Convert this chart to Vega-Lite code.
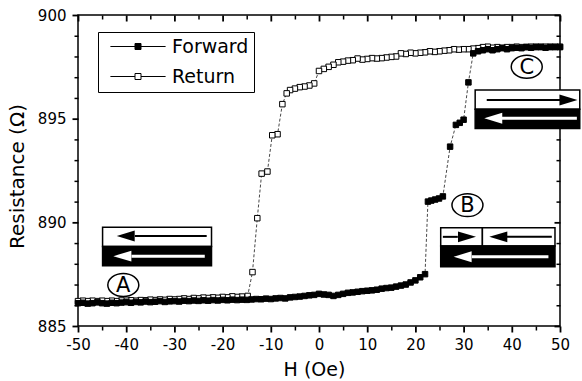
{
  "$schema": "https://vega.github.io/schema/vega-lite/v6.json",
  "width": 482,
  "height": 311,
  "autosize": {"type": "none"},
  "padding": {"left": 78, "top": 15, "right": 22, "bottom": 55},
  "background": "white",
  "config": {
    "view": {"stroke": "black", "strokeWidth": 1.5},
    "font": "DejaVu Sans",
    "axis": {"grid": false, "domain": false, "labelColor": "black", "titleColor": "black", "labelFont": "DejaVu Sans", "titleFont": "DejaVu Sans", "labelFontSize": 15, "titleFontSize": 19, "titleFontWeight": "normal", "labelFlush": false, "labelOverlap": false, "tickRound": false}
  },
  "datasets": {
    "curves": [
      {"H": 50, "R": 898.47, "series": "Return"}, {"H": 49, "R": 898.47, "series": "Return"}, {"H": 48, "R": 898.47, "series": "Return"}, {"H": 47, "R": 898.47, "series": "Return"}, {"H": 46, "R": 898.47, "series": "Return"}, {"H": 45, "R": 898.47, "series": "Return"}, {"H": 44, "R": 898.47, "series": "Return"}, {"H": 43, "R": 898.46, "series": "Return"}, {"H": 42, "R": 898.45, "series": "Return"}, {"H": 41, "R": 898.47, "series": "Return"}, {"H": 40, "R": 898.45, "series": "Return"}, {"H": 39, "R": 898.45, "series": "Return"}, {"H": 38, "R": 898.42, "series": "Return"}, {"H": 37, "R": 898.45, "series": "Return"}, {"H": 36, "R": 898.42, "series": "Return"}, {"H": 35, "R": 898.47, "series": "Return"}, {"H": 34, "R": 898.45, "series": "Return"}, {"H": 33, "R": 898.4, "series": "Return"}, {"H": 32, "R": 898.38, "series": "Return"}, {"H": 31, "R": 898.35, "series": "Return"}, {"H": 30, "R": 898.35, "series": "Return"}, {"H": 29, "R": 898.33, "series": "Return"}, {"H": 28, "R": 898.35, "series": "Return"}, {"H": 27, "R": 898.3, "series": "Return"}, {"H": 26, "R": 898.28, "series": "Return"}, {"H": 25, "R": 898.25, "series": "Return"}, {"H": 24, "R": 898.22, "series": "Return"}, {"H": 23, "R": 898.25, "series": "Return"}, {"H": 22, "R": 898.2, "series": "Return"}, {"H": 21, "R": 898.18, "series": "Return"}, {"H": 20, "R": 898.15, "series": "Return"}, {"H": 19, "R": 898.18, "series": "Return"}, {"H": 18, "R": 898.12, "series": "Return"}, {"H": 17, "R": 898.15, "series": "Return"}, {"H": 16, "R": 898.0, "series": "Return"}, {"H": 15, "R": 897.98, "series": "Return"}, {"H": 14, "R": 897.95, "series": "Return"}, {"H": 13, "R": 897.92, "series": "Return"}, {"H": 12, "R": 897.9, "series": "Return"}, {"H": 11, "R": 897.92, "series": "Return"}, {"H": 10, "R": 897.88, "series": "Return"}, {"H": 9, "R": 897.85, "series": "Return"}, {"H": 8, "R": 897.9, "series": "Return"}, {"H": 7, "R": 897.82, "series": "Return"}, {"H": 6, "R": 897.8, "series": "Return"}, {"H": 5, "R": 897.75, "series": "Return"}, {"H": 4, "R": 897.72, "series": "Return"}, {"H": 3, "R": 897.6, "series": "Return"}, {"H": 2, "R": 897.5, "series": "Return"}, {"H": 1, "R": 897.4, "series": "Return"}, {"H": 0, "R": 897.3, "series": "Return"}, {"H": -1, "R": 896.7, "series": "Return"}, {"H": -2, "R": 896.6, "series": "Return"}, {"H": -3, "R": 896.55, "series": "Return"}, {"H": -4, "R": 896.52, "series": "Return"}, {"H": -5, "R": 896.45, "series": "Return"}, {"H": -6, "R": 896.38, "series": "Return"}, {"H": -6.7, "R": 896.22, "series": "Return"}, {"H": -7.6, "R": 895.7, "series": "Return"}, {"H": -8.6, "R": 894.25, "series": "Return"}, {"H": -9.7, "R": 894.2, "series": "Return"}, {"H": -10.7, "R": 892.45, "series": "Return"}, {"H": -11.9, "R": 892.35, "series": "Return"}, {"H": -12.8, "R": 890.2, "series": "Return"}, {"H": -13.8, "R": 887.6, "series": "Return"}, {"H": -14.8, "R": 886.45, "series": "Return"}, {"H": -16, "R": 886.42, "series": "Return"}, {"H": -17, "R": 886.4, "series": "Return"}, {"H": -18, "R": 886.43, "series": "Return"}, {"H": -19, "R": 886.38, "series": "Return"}, {"H": -20, "R": 886.4, "series": "Return"}, {"H": -21, "R": 886.36, "series": "Return"}, {"H": -22, "R": 886.38, "series": "Return"}, {"H": -23, "R": 886.35, "series": "Return"}, {"H": -24, "R": 886.37, "series": "Return"}, {"H": -25, "R": 886.33, "series": "Return"}, {"H": -26, "R": 886.35, "series": "Return"}, {"H": -27, "R": 886.3, "series": "Return"}, {"H": -28, "R": 886.33, "series": "Return"}, {"H": -29, "R": 886.3, "series": "Return"}, {"H": -30, "R": 886.28, "series": "Return"}, {"H": -31, "R": 886.3, "series": "Return"}, {"H": -32, "R": 886.26, "series": "Return"}, {"H": -33, "R": 886.28, "series": "Return"}, {"H": -34, "R": 886.25, "series": "Return"}, {"H": -35, "R": 886.27, "series": "Return"}, {"H": -36, "R": 886.24, "series": "Return"}, {"H": -37, "R": 886.25, "series": "Return"}, {"H": -38, "R": 886.22, "series": "Return"}, {"H": -39, "R": 886.24, "series": "Return"}, {"H": -40, "R": 886.22, "series": "Return"}, {"H": -41, "R": 886.23, "series": "Return"}, {"H": -42, "R": 886.2, "series": "Return"}, {"H": -43, "R": 886.22, "series": "Return"}, {"H": -44, "R": 886.2, "series": "Return"}, {"H": -45, "R": 886.22, "series": "Return"}, {"H": -46, "R": 886.2, "series": "Return"}, {"H": -47, "R": 886.22, "series": "Return"}, {"H": -48, "R": 886.2, "series": "Return"}, {"H": -49, "R": 886.22, "series": "Return"}, {"H": -50, "R": 886.2, "series": "Return"},
      {"H": -50, "R": 886.1, "series": "Forward"}, {"H": -49, "R": 886.12, "series": "Forward"}, {"H": -48, "R": 886.08, "series": "Forward"}, {"H": -47, "R": 886.1, "series": "Forward"}, {"H": -46, "R": 886.14, "series": "Forward"}, {"H": -45, "R": 886.1, "series": "Forward"}, {"H": -44, "R": 886.08, "series": "Forward"}, {"H": -43, "R": 886.12, "series": "Forward"}, {"H": -42, "R": 886.1, "series": "Forward"}, {"H": -41, "R": 886.13, "series": "Forward"}, {"H": -40, "R": 886.15, "series": "Forward"}, {"H": -39, "R": 886.12, "series": "Forward"}, {"H": -38, "R": 886.16, "series": "Forward"}, {"H": -37, "R": 886.14, "series": "Forward"}, {"H": -36, "R": 886.18, "series": "Forward"}, {"H": -35, "R": 886.15, "series": "Forward"}, {"H": -34, "R": 886.17, "series": "Forward"}, {"H": -33, "R": 886.2, "series": "Forward"}, {"H": -32, "R": 886.16, "series": "Forward"}, {"H": -31, "R": 886.19, "series": "Forward"}, {"H": -30, "R": 886.2, "series": "Forward"}, {"H": -29, "R": 886.18, "series": "Forward"}, {"H": -28, "R": 886.22, "series": "Forward"}, {"H": -27, "R": 886.2, "series": "Forward"}, {"H": -26, "R": 886.23, "series": "Forward"}, {"H": -25, "R": 886.21, "series": "Forward"}, {"H": -24, "R": 886.24, "series": "Forward"}, {"H": -23, "R": 886.22, "series": "Forward"}, {"H": -22, "R": 886.25, "series": "Forward"}, {"H": -21, "R": 886.23, "series": "Forward"}, {"H": -20, "R": 886.26, "series": "Forward"}, {"H": -19, "R": 886.24, "series": "Forward"}, {"H": -18, "R": 886.27, "series": "Forward"}, {"H": -17, "R": 886.25, "series": "Forward"}, {"H": -16, "R": 886.27, "series": "Forward"}, {"H": -15, "R": 886.26, "series": "Forward"}, {"H": -14, "R": 886.28, "series": "Forward"}, {"H": -13, "R": 886.3, "series": "Forward"}, {"H": -12, "R": 886.29, "series": "Forward"}, {"H": -11, "R": 886.32, "series": "Forward"}, {"H": -10, "R": 886.3, "series": "Forward"}, {"H": -9, "R": 886.33, "series": "Forward"}, {"H": -8, "R": 886.35, "series": "Forward"}, {"H": -7, "R": 886.33, "series": "Forward"}, {"H": -6, "R": 886.38, "series": "Forward"}, {"H": -5, "R": 886.4, "series": "Forward"}, {"H": -4, "R": 886.42, "series": "Forward"}, {"H": -3, "R": 886.45, "series": "Forward"}, {"H": -2, "R": 886.48, "series": "Forward"}, {"H": -1, "R": 886.5, "series": "Forward"}, {"H": 0, "R": 886.55, "series": "Forward"}, {"H": 1, "R": 886.52, "series": "Forward"}, {"H": 2, "R": 886.5, "series": "Forward"}, {"H": 3, "R": 886.45, "series": "Forward"}, {"H": 4, "R": 886.5, "series": "Forward"}, {"H": 5, "R": 886.55, "series": "Forward"}, {"H": 6, "R": 886.6, "series": "Forward"}, {"H": 7, "R": 886.62, "series": "Forward"}, {"H": 8, "R": 886.65, "series": "Forward"}, {"H": 9, "R": 886.68, "series": "Forward"}, {"H": 10, "R": 886.7, "series": "Forward"}, {"H": 11, "R": 886.72, "series": "Forward"}, {"H": 12, "R": 886.75, "series": "Forward"}, {"H": 13, "R": 886.8, "series": "Forward"}, {"H": 14, "R": 886.83, "series": "Forward"}, {"H": 15, "R": 886.85, "series": "Forward"}, {"H": 16, "R": 886.9, "series": "Forward"}, {"H": 17, "R": 886.95, "series": "Forward"}, {"H": 18, "R": 887.0, "series": "Forward"}, {"H": 19, "R": 887.1, "series": "Forward"}, {"H": 20, "R": 887.2, "series": "Forward"}, {"H": 21, "R": 887.35, "series": "Forward"}, {"H": 22, "R": 887.5, "series": "Forward"}, {"H": 22.6, "R": 891.0, "series": "Forward"}, {"H": 23.3, "R": 891.05, "series": "Forward"}, {"H": 24.1, "R": 891.1, "series": "Forward"}, {"H": 24.9, "R": 891.15, "series": "Forward"}, {"H": 25.7, "R": 891.25, "series": "Forward"}, {"H": 27.2, "R": 893.65, "series": "Forward"}, {"H": 28.4, "R": 894.7, "series": "Forward"}, {"H": 29.2, "R": 894.8, "series": "Forward"}, {"H": 30, "R": 894.95, "series": "Forward"}, {"H": 31, "R": 896.75, "series": "Forward"}, {"H": 32, "R": 898.15, "series": "Forward"}, {"H": 33, "R": 898.25, "series": "Forward"}, {"H": 34, "R": 898.3, "series": "Forward"}, {"H": 35, "R": 898.35, "series": "Forward"}, {"H": 36, "R": 898.3, "series": "Forward"}, {"H": 37, "R": 898.35, "series": "Forward"}, {"H": 38, "R": 898.4, "series": "Forward"}, {"H": 39, "R": 898.35, "series": "Forward"}, {"H": 40, "R": 898.4, "series": "Forward"}, {"H": 41, "R": 898.42, "series": "Forward"}, {"H": 42, "R": 898.4, "series": "Forward"}, {"H": 43, "R": 898.45, "series": "Forward"}, {"H": 44, "R": 898.42, "series": "Forward"}, {"H": 45, "R": 898.45, "series": "Forward"}, {"H": 46, "R": 898.45, "series": "Forward"}, {"H": 47, "R": 898.42, "series": "Forward"}, {"H": 48, "R": 898.45, "series": "Forward"}, {"H": 49, "R": 898.45, "series": "Forward"}, {"H": 50, "R": 898.45, "series": "Forward"}
    ],
    "boxes": [
      {"box": "A", "part": "light", "x1": -44.9, "x2": -22.3, "y1": 888.83, "y2": 889.76},
      {"box": "A", "part": "dark", "x1": -44.9, "x2": -22.3, "y1": 887.91, "y2": 888.83},
      {"box": "B", "part": "light", "x1": 25.25, "x2": 33.9, "y1": 888.86, "y2": 889.74},
      {"box": "B", "part": "light", "x1": 33.9, "x2": 48.96, "y1": 888.86, "y2": 889.74},
      {"box": "B", "part": "dark", "x1": 25.25, "x2": 48.96, "y1": 887.86, "y2": 888.86},
      {"box": "C", "part": "light", "x1": 32.4, "x2": 54.1, "y1": 895.45, "y2": 896.38},
      {"box": "C", "part": "dark", "x1": 32.4, "x2": 54.1, "y1": 894.53, "y2": 895.45}
    ],
    "shafts": [
      {"box": "A", "bg": "light", "x1": -38.2, "x2": -23.3, "y": 889.34},
      {"box": "A", "bg": "dark", "x1": -38.9, "x2": -23.7, "y": 888.37},
      {"box": "B", "bg": "light", "x1": 25.7, "x2": 28.8, "y": 889.3},
      {"box": "B", "bg": "light", "x1": 38.9, "x2": 48.3, "y": 889.3},
      {"box": "B", "bg": "dark", "x1": 31.7, "x2": 47.6, "y": 888.34},
      {"box": "C", "bg": "light", "x1": 34.8, "x2": 50, "y": 895.9},
      {"box": "C", "bg": "dark", "x1": 37.9, "x2": 53.5, "y": 895.02}
    ],
    "heads": [
      {"box": "A", "bg": "light", "x": -40.1, "y": 889.34, "dir": "left"},
      {"box": "A", "bg": "dark", "x": -40.8, "y": 888.37, "dir": "left"},
      {"box": "B", "bg": "light", "x": 30.7, "y": 889.3, "dir": "right"},
      {"box": "B", "bg": "light", "x": 37.2, "y": 889.3, "dir": "left"},
      {"box": "B", "bg": "dark", "x": 29.8, "y": 888.34, "dir": "left"},
      {"box": "C", "bg": "light", "x": 51.75, "y": 895.9, "dir": "right"},
      {"box": "C", "bg": "dark", "x": 36.15, "y": 895.02, "dir": "left"}
    ],
    "states": [
      {"label": "A", "x": -40.6, "y": 886.98},
      {"label": "B", "x": 30.8, "y": 890.83},
      {"label": "C", "x": 43.1, "y": 897.5}
    ]
  },
  "layer": [
    {
      "data": {"name": "curves"},
      "mark": {"type": "line", "color": "#333333", "strokeWidth": 0.9, "strokeDash": [3, 2]},
      "encoding": {
        "x": {"field": "H", "type": "quantitative", "scale": {"domain": [-50, 50], "nice": false, "zero": false},
          "axis": {"orient": "bottom", "values": [-50, -40, -30, -20, -10, 0, 10, 20, 30, 40, 50],
            "labelExpr": "datum.value < 0 ? '-' + abs(datum.value) : '' + datum.value",
            "tickSize": 6, "tickColor": "black", "tickWidth": 1.8, "labelPadding": 5, "title": "H (Oe)", "titleX": 236, "titleY": 49, "titleBaseline": "alphabetic", "titleAlign": "center"}},
        "y": {"field": "R", "type": "quantitative", "scale": {"domain": [885, 900], "nice": false, "zero": false},
          "axis": {"orient": "left", "values": [885, 890, 895, 900],
            "labelExpr": "'' + datum.value",
            "tickSize": 6, "tickColor": "black", "tickWidth": 1.8, "labelPadding": 6, "title": "Resistance (Ω)", "titleX": -55, "titleY": 161, "titleAngle": 270, "titleBaseline": "alphabetic", "titleAlign": "center", "titleFontSize": 20}},
        "detail": {"field": "series", "type": "nominal"}
      }
    },
    {
      "data": {"name": "curves"},
      "mark": {"type": "point", "shape": "square", "filled": true, "size": 30, "stroke": "black", "strokeWidth": 1, "opacity": 1},
      "encoding": {
        "x": {"field": "H", "type": "quantitative",
          "axis": {"orient": "top", "values": [-50, -40, -30, -20, -10, 0, 10, 20, 30, 40, 50], "labels": false, "title": null, "tickSize": -6, "tickColor": "black", "tickWidth": 1.8}},
        "y": {"field": "R", "type": "quantitative",
          "axis": {"orient": "right", "values": [885, 890, 895, 900], "labels": false, "title": null, "tickSize": -6, "tickColor": "black", "tickWidth": 1.8}},
        "fill": {"field": "series", "type": "nominal", "scale": {"domain": ["Forward", "Return"], "range": ["black", "white"]},
          "legend": {"orient": "none", "legendX": 20, "legendY": 17, "title": null, "direction": "vertical",
            "symbolType": "M-0.7,0H7.5M9.5,0H17.7M7.5,-1H9.5V1H7.5Z", "symbolSize": 36, "symbolStrokeColor": "black", "symbolStrokeWidth": 1,
            "labelFontSize": 19, "labelFont": "DejaVu Sans", "labelColor": "black", "labelOffset": 50, "labelLimit": 300,
            "strokeColor": "black", "fillColor": "white", "padding": 5, "rowPadding": 10,
            "encode": {"symbols": {"update": {"stroke": {"value": "black"}, "strokeWidth": {"value": 1}}}}}}
      }
    },
    {
      "data": {"name": "boxes"},
      "transform": [{"filter": "datum.part === 'light'"}],
      "mark": {"type": "rect", "fill": "white", "stroke": "black", "strokeWidth": 1.5},
      "encoding": {
        "x": {"field": "x1", "type": "quantitative",
          "axis": {"orient": "bottom", "values": [-45, -35, -25, -15, -5, 5, 15, 25, 35, 45], "labels": false, "title": null, "tickSize": 4, "tickColor": "black", "tickWidth": 1.5}},
        "x2": {"field": "x2"},
        "y": {"field": "y1", "type": "quantitative",
          "axis": {"orient": "left", "values": [886, 887, 888, 889, 891, 892, 893, 894, 896, 897, 898, 899], "labels": false, "title": null, "tickSize": 4, "tickColor": "black", "tickWidth": 1.5}},
        "y2": {"field": "y2"}
      }
    },
    {
      "data": {"name": "boxes"},
      "transform": [{"filter": "datum.part === 'dark'"}],
      "mark": {"type": "rect", "fill": "black", "stroke": "black", "strokeWidth": 1.5},
      "encoding": {
        "x": {"field": "x1", "type": "quantitative",
          "axis": {"orient": "top", "values": [-45, -35, -25, -15, -5, 5, 15, 25, 35, 45], "labels": false, "title": null, "tickSize": -4, "tickColor": "black", "tickWidth": 1.5}},
        "x2": {"field": "x2"},
        "y": {"field": "y1", "type": "quantitative",
          "axis": {"orient": "right", "values": [886, 887, 888, 889, 891, 892, 893, 894, 896, 897, 898, 899], "labels": false, "title": null, "tickSize": -4, "tickColor": "black", "tickWidth": 1.5}},
        "y2": {"field": "y2"}
      }
    },
    {
      "data": {"name": "shafts"},
      "transform": [{"filter": "datum.bg === 'light'"}],
      "mark": {"type": "rule", "color": "black", "strokeWidth": 2},
      "encoding": {
        "x": {"field": "x1", "type": "quantitative", "axis": null}, "x2": {"field": "x2"},
        "y": {"field": "y", "type": "quantitative", "axis": null}
      }
    },
    {
      "data": {"name": "shafts"},
      "transform": [{"filter": "datum.bg === 'dark'"}],
      "mark": {"type": "rule", "color": "white", "strokeWidth": 3},
      "encoding": {
        "x": {"field": "x1", "type": "quantitative", "axis": null}, "x2": {"field": "x2"},
        "y": {"field": "y", "type": "quantitative", "axis": null}
      }
    },
    {
      "data": {"name": "heads"},
      "transform": [{"filter": "datum.bg === 'light'"}],
      "mark": {"type": "point", "filled": true, "fill": "black", "size": 324, "opacity": 1},
      "encoding": {
        "x": {"field": "x", "type": "quantitative", "axis": null},
        "y": {"field": "y", "type": "quantitative", "axis": null},
        "shape": {"field": "dir", "type": "nominal", "scale": {"domain": ["left", "right"], "range": ["M-1,0L1,-0.6L1,0.6Z", "M1,0L-1,-0.6L-1,0.6Z"]}, "legend": null}
      }
    },
    {
      "data": {"name": "heads"},
      "transform": [{"filter": "datum.bg === 'dark'"}],
      "mark": {"type": "point", "filled": true, "fill": "white", "size": 324, "opacity": 1},
      "encoding": {
        "x": {"field": "x", "type": "quantitative", "axis": null},
        "y": {"field": "y", "type": "quantitative", "axis": null},
        "shape": {"field": "dir", "type": "nominal", "legend": null}
      }
    },
    {
      "data": {"name": "states"},
      "mark": {"type": "point", "shape": "M-1,0A1,0.74,0,1,0,1,0A1,0.74,0,1,0,-1,0Z", "size": 961, "filled": false, "stroke": "black", "strokeWidth": 1.5, "opacity": 1},
      "encoding": {
        "x": {"field": "x", "type": "quantitative", "axis": null},
        "y": {"field": "y", "type": "quantitative", "axis": null}
      }
    },
    {
      "data": {"name": "states"},
      "mark": {"type": "text", "font": "DejaVu Sans", "fontSize": 21, "color": "black", "align": "center", "baseline": "middle", "dy": 1},
      "encoding": {
        "x": {"field": "x", "type": "quantitative", "axis": null},
        "y": {"field": "y", "type": "quantitative", "axis": null},
        "text": {"field": "label", "type": "nominal"}
      }
    }
  ],
  "resolve": {"axis": {"x": "independent", "y": "independent"}}
}
